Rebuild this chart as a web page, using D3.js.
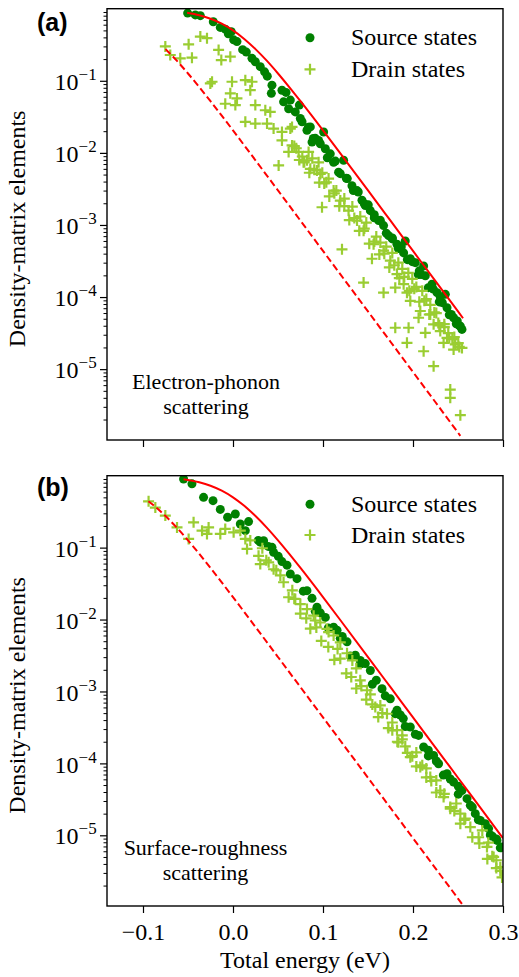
<!DOCTYPE html>
<html><head><meta charset="utf-8">
<script src="https://cdn.jsdelivr.net/npm/d3@7"></script>
<style>html,body{margin:0;padding:0;background:#fff;} svg{display:block;}</style>
</head><body><div id="chart"></div>
<script>
// ---------- data ----------
const xTicks = [-0.1, 0, 0.1, 0.2, 0.3];
const xTickLabels = ["\u22120.1", "0.0", "0.1", "0.2", "0.3"];
const yTicks = [1e-1, 1e-2, 1e-3, 1e-4, 1e-5];
const yTickExponents = ["\u22121", "\u22122", "\u22123", "\u22124", "\u22125"];
const xDomain = [-0.14, 0.3];
const yDomain = [1.04e-6, 1];
const seriesNames = ["Source states", "Drain states"];
const panelLabels = ["(a)", "(b)"];
const panelNotes = [["Electron-phonon", "scattering"], ["Surface-roughness", "scattering"]];
const xTitle = "Total energy (eV)";
const yTitle = "Density-matrix elements";

const sourceA = [[-0.0504,0.87],[-0.0419,0.82],[-0.0363,0.80],[-0.0219,0.66],[-0.0141,0.55],[-0.0086,0.52],[-0.0052,0.45],[-0.0019,0.48],[0.0007,0.37],[0.0044,0.35],[0.0107,0.27],[0.0148,0.25],[0.0211,0.205],[0.0248,0.184],[0.0303,0.157],[0.0351,0.133],[0.0381,0.116],[0.0433,0.087],[0.0426,0.067],[0.0544,0.074],[0.0589,0.069],[0.0562,0.051],[0.0637,0.054],[0.0618,0.041],[0.0692,0.037],[0.0737,0.046],[0.0748,0.030],[0.0767,0.027],[0.0822,0.0206],[0.0859,0.0229],[0.0878,0.0141],[0.0914,0.0159],[0.0951,0.0149],[0.1007,0.0195],[0.1026,0.0114],[0.1081,0.0097],[0.1118,0.0074],[0.1173,0.0054],[0.1229,0.0079],[0.1270,0.0044],[0.1322,0.0035],[0.1378,0.0030],[0.1433,0.0022],[0.1470,0.00186],[0.1526,0.00158],[0.1570,0.00139],[0.1618,0.00115],[0.1673,0.00098],[0.1729,0.00071],[0.1770,0.00064],[0.1822,0.00054],[0.1914,0.00060],[0.1896,0.00041],[0.1970,0.00034],[0.2026,0.00030],[0.2070,0.000231],[0.2118,0.00027],[0.2137,0.000197],[0.2211,0.000151],[0.2267,0.000115],[0.2303,0.000100],[0.2359,0.000109],[0.2378,0.000071],[0.2451,0.0000516],[0.2492,0.0000465],[0.2526,0.0000395],[0.2544,0.0000356],
[0.0837,0.0227],[0.0892,0.0158],[0.0970,0.0134],[0.1048,0.00855],[0.1137,0.00769],[0.1192,0.00515],[0.1259,0.00443],[0.1337,0.00301],[0.1392,0.00287],[0.1459,0.00197],[0.1503,0.00190],[0.1570,0.00126],[0.1637,0.00116],[0.1703,0.00077],[0.1770,0.00066],[0.1837,0.00047],[0.1870,0.00050],[0.1937,0.00033],[0.1992,0.00031],[0.2059,0.000205],[0.2092,0.000205],[0.2170,0.000135],[0.2226,0.000129],[0.2292,0.0000857],[0.2326,0.0000836],[0.2403,0.0000566],[0.2426,0.0000575],[0.2481,0.0000425],[0.2514,0.0000401]];

const drainA = [[-0.0752,0.30],[-0.0697,0.228],[-0.0586,0.205],[-0.0493,0.32],[-0.0456,0.209],[-0.0363,0.41],[-0.0289,0.39],[-0.0160,0.268],[-0.0130,0.194],[-0.0030,0.216],[-0.0233,0.097],[-0.0252,0.092],[-0.0011,0.097],[-0.0030,0.067],[0.0044,0.057],[-0.0086,0.048],[0.0026,0.046],[0.0137,0.102],[0.0211,0.097],[0.0192,0.074],[0.0248,0.046],[0.0359,0.039],[0.0414,0.037],[0.0137,0.027],[0.0248,0.0255],[0.0378,0.0255],[0.0451,0.0217],[0.0544,0.0195],[0.0637,0.0217],[0.0656,0.0229],[0.0544,0.0149],[0.0656,0.0127],[0.0618,0.0103],[0.0703,0.0116],[0.0729,0.0103],[0.0840,0.0103],[0.0507,0.0067],[0.0770,0.0089],[0.0784,0.0074],[0.0822,0.0079],[0.0881,0.0084],[0.0859,0.0060],[0.0933,0.0057],[0.0951,0.0074],[0.0970,0.0051],[0.0992,0.0053],[0.1037,0.0039],[0.1062,0.0044],[0.0989,0.00176],[0.1118,0.0030],[0.1148,0.0030],[0.1192,0.00218],[0.1237,0.00232],[0.1284,0.00158],[0.1326,0.00180],[0.1378,0.00115],[0.1414,0.00131],[0.1481,0.00108],[0.1211,0.00046],[0.1451,0.00083],[0.1562,0.00054],[0.1592,0.00069],[0.1544,0.00034],[0.1637,0.00057],[0.1673,0.00044],[0.1703,0.00050],[0.1748,0.00032],[0.1770,0.00041],[0.1837,0.00030],[0.1451,0.000159],[0.1673,0.000115],[0.1822,0.000208],[0.1803,0.000135],[0.1881,0.000246],[0.1896,0.000151],[0.1948,0.000216],[0.1933,0.000115],[0.1992,0.000179],[0.1970,0.0000883],[0.2037,0.000138],[0.2103,0.000122],[0.2148,0.000094],[0.2081,0.0000640],[0.2062,0.0000516],[0.2192,0.0000575],[0.2192,0.000078],[0.2259,0.000060],[0.2229,0.0000418],[0.2281,0.0000436],[0.2303,0.0000337],[0.2348,0.0000383],[0.2392,0.0000316],[0.2378,0.0000272],[0.2437,0.0000261],[0.2470,0.0000220],[0.2503,0.0000230],[0.2544,0.0000197],[0.2451,0.0000187],[0.1803,0.0000375],[0.1951,0.0000375],[0.1933,0.0000232],[0.2137,0.0000319],[0.2118,0.0000177],[0.2340,0.0000232],[0.2229,0.0000110],[0.2414,0.0000052],[0.2414,0.0000040],[0.2526,0.0000023],
[0.0681,0.01244],[0.0737,0.00796],[0.0792,0.00749],[0.0848,0.00530],[0.0903,0.00585],[0.0959,0.00387],[0.1014,0.00376],[0.1070,0.00249],[0.1126,0.00275],[0.1181,0.00182],[0.1237,0.00183],[0.1292,0.00117],[0.1348,0.00125],[0.1403,0.00083],[0.1459,0.00089],[0.1514,0.00055],[0.1570,0.00059],[0.1626,0.00039],[0.1681,0.00040],[0.1737,0.000258],[0.1792,0.000276],[0.1848,0.000183],[0.1903,0.000190],[0.1959,0.000122],[0.2014,0.000130],[0.2070,0.0000861],[0.2126,0.0000891],[0.2181,0.0000573],[0.2237,0.0000612],[0.2292,0.0000405],[0.2348,0.0000420],[0.2403,0.0000269],[0.2459,0.0000279],[0.2514,0.0000203]];

const sourceB = [[-0.0549,0.90],[-0.0456,0.77],[-0.0327,0.50],[-0.0222,0.45],[-0.0141,0.34],[-0.0060,0.264],[0.0026,0.293],[0.0081,0.213],[0.0173,0.230],[0.0137,0.172],[0.0303,0.119],[0.0340,0.125],[0.0433,0.101],[0.0451,0.086],[0.0544,0.064],[0.0600,0.057],[0.0637,0.043],[0.0711,0.037],[0.0822,0.0252],[0.0878,0.0197],[0.0933,0.0148],[0.1026,0.0107],[0.1118,0.0078],[0.1156,0.0071],[0.1214,0.0058],[0.1267,0.0049],[0.1359,0.0032],[0.1414,0.0027],[0.1470,0.00244],[0.1526,0.00196],[0.1592,0.00143],[0.1656,0.00109],[0.1748,0.00079],[0.1822,0.00055],[0.1892,0.00042],[0.1970,0.00032],[0.2062,0.000245],[0.2118,0.000169],[0.2170,0.000152],[0.2229,0.000129],[0.2284,0.000099],[0.2378,0.000072],[0.2451,0.000055],[0.2503,0.000048],[0.2544,0.000042],[0.2600,0.0000323],[0.2637,0.0000261],[0.2692,0.0000200],[0.2748,0.0000161],[0.2840,0.0000124],[0.2881,0.0000097],[0.2933,0.0000085],[0.2989,0.0000069],
[0.0281,0.126],[0.0392,0.104],[0.0503,0.0757],[0.0781,0.0248],[0.0914,0.0130],[0.0970,0.0124],[0.1059,0.00762],[0.1192,0.00548],[0.1303,0.00310],[0.1414,0.00241],[0.1548,0.00126],[0.1692,0.00087],[0.1803,0.00049],[0.1859,0.00047],[0.1914,0.000326],[0.2026,0.000254],[0.2170,0.000127],[0.2259,0.000108],[0.2337,0.0000687],[0.2414,0.0000607],[0.2503,0.0000373],[0.2659,0.0000247],[0.2726,0.0000164],[0.2803,0.0000145],[0.2859,0.0000101],[0.2926,0.0000089],[0.2970,0.0000067]];

const drainB = [[-0.0938,0.44],[-0.0863,0.36],[-0.0752,0.279],[-0.0622,0.191],[-0.0493,0.132],[-0.0438,0.225],[-0.0344,0.172],[-0.0271,0.191],[-0.0289,0.155],[-0.0141,0.155],[-0.0086,0.182],[0.0007,0.163],[0.0081,0.172],[0.0137,0.132],[0.0156,0.096],[0.0284,0.077],[0.0303,0.059],[0.0396,0.0625],[0.0451,0.050],[0.0526,0.041],[0.0562,0.033],[0.0618,0.0204],[0.0692,0.0193],[0.0748,0.0164],[0.0822,0.0140],[0.0896,0.0113],[0.0914,0.0097],[0.0970,0.0091],[0.1044,0.0074],[0.1062,0.0067],[0.1118,0.0060],[0.1162,0.0039],[0.1192,0.0048],[0.1267,0.0034],[0.1326,0.0027],[0.1370,0.0021],[0.1414,0.00143],[0.1489,0.00104],[0.1526,0.00091],[0.1581,0.00061],[0.1637,0.00064],[0.1711,0.00049],[0.1770,0.00037],[0.1822,0.00029],[0.1837,0.000196],[0.1881,0.000245],[0.1914,0.000172],[0.1970,0.000122],[0.2037,0.000142],[0.2081,0.0000889],[0.2148,0.000085],[0.2192,0.0000645],[0.2259,0.000058],[0.2303,0.000042],[0.2340,0.000034],[0.2414,0.0000247],[0.2481,0.0000277],[0.2526,0.0000200],[0.2581,0.0000171],[0.2637,0.0000130],[0.2729,0.0000094],[0.2770,0.0000117],[0.2822,0.0000069],[0.2837,0.0000079],[0.2896,0.0000050],[0.2926,0.0000045],[0.2970,0.0000036],[0.2989,0.0000026],
[0.0192,0.126],[0.0326,0.098],[0.0370,0.0665],[0.0481,0.0483],[0.0659,0.0255],[0.0681,0.0194],[0.0748,0.0121],[0.0814,0.0104],[0.0859,0.00747],[0.0926,0.00777],[0.0981,0.00504],[0.1059,0.00416],[0.1126,0.00275],[0.1192,0.00286],[0.1259,0.00178],[0.1314,0.00159],[0.1370,0.00110],[0.1426,0.00119],[0.1481,0.00077],[0.1548,0.00066],[0.1614,0.00044],[0.1659,0.00050],[0.1726,0.00031],[0.1770,0.000288],[0.1826,0.000200],[0.1881,0.000216],[0.1937,0.000140],[0.1992,0.000126],[0.2037,0.0000906],[0.2103,0.0000942],[0.2148,0.0000637],[0.2203,0.0000569],[0.2259,0.0000394],[0.2348,0.0000377],[0.2414,0.0000234],[0.2459,0.0000218],[0.2526,0.0000145],[0.2570,0.0000164],[0.2659,0.0000094],[0.2737,0.0000077],[0.2826,0.0000047],[0.2881,0.0000051],[0.2926,0.0000035],[0.2970,0.0000032]];

const fermiSourceA = [[-0.051,0.878],[-0.0375,0.810],[-0.025,0.725],[-0.0125,0.619],[0,0.5],[0.0125,0.381],[0.025,0.275],[0.0375,0.190],[0.05,0.1263],[0.0625,0.0818],[0.075,0.0521],[0.1,0.0205],[0.125,0.00788],[0.15,0.00301],[0.175,0.001146],[0.2,0.000436],[0.225,0.000166],[0.25,0.0000631],[0.2556,0.0000508]];
const fermiSourceB = [[-0.055,0.894],[-0.05,0.874],[-0.0375,0.810],[-0.025,0.725],[-0.0125,0.619],[0,0.5],[0.0125,0.381],[0.025,0.275],[0.0375,0.190],[0.05,0.1263],[0.0625,0.0818],[0.075,0.0521],[0.1,0.0205],[0.125,0.00788],[0.15,0.00301],[0.175,0.001146],[0.2,0.000436],[0.225,0.000166],[0.25,0.0000631],[0.275,0.0000240],[0.3,0.00000912]];
const fermiDrainA = [[-0.075,0.275],[-0.0625,0.190],[-0.05,0.1263],[-0.0375,0.0818],[-0.025,0.0521],[-0.0125,0.0328],[0,0.0205],[0.025,0.00788],[0.05,0.00301],[0.075,0.001146],[0.1,0.000436],[0.125,0.000166],[0.15,0.0000631],[0.175,0.0000240],[0.2,0.00000912],[0.225,0.00000347],[0.2526,0.00000119]];
const fermiDrainB = [[-0.094,0.442],[-0.0875,0.381],[-0.075,0.275],[-0.0625,0.190],[-0.05,0.1263],[-0.0375,0.0818],[-0.025,0.0521],[-0.0125,0.0328],[0,0.0205],[0.025,0.00788],[0.05,0.00301],[0.075,0.001146],[0.1,0.000436],[0.125,0.000166],[0.15,0.0000631],[0.175,0.0000240],[0.2,0.00000912],[0.225,0.00000347],[0.25,0.00000132],[0.2556,0.00000106]];

// ---------- drawing ----------
const W = 519, H = 977;
const SERIF = "'Liberation Serif','Times New Roman',serif";
const FS = 24;
const C_SRC = "#008000", C_DRN = "#9acd32", C_RED = "#ff0000";
const left = 107, right = 503;
const layouts = [
  {top: 8.7, bottom: 440, showX: false, legY: [37.7, 69.3], noteX: 206, noteY: [389, 414], labY: 30.5},
  {top: 475.7, bottom: 906, showX: true, legY: [504.3, 535], noteX: 205.5, noteY: [855, 880], labY: 495.5}
];
const panels = [
  {src: sourceA, drn: drainA, solid: fermiSourceA, dashed: fermiDrainA},
  {src: sourceB, drn: drainB, solid: fermiSourceB, dashed: fermiDrainB}
];
const minorTicks = [];
for (let k = -6; k <= -1; k++) for (let m = 2; m <= 9; m++) {
  const v = m * Math.pow(10, k);
  if (v >= yDomain[0] && v <= yDomain[1]) minorTicks.push(v);
}

const svg = d3.select("#chart").append("svg").attr("width", W).attr("height", H)
  .style("font-family", SERIF);
const x = d3.scaleLinear().domain(xDomain).range([left, right]);
const plusPath = "M-5.5,0H5.5M0,-5.5V5.5";

panels.forEach((p, i) => {
  const L = layouts[i];
  const y = d3.scaleLog().domain(yDomain).range([L.bottom, L.top]);
  const clipId = "clip" + i;
  svg.append("clipPath").attr("id", clipId).append("rect")
    .attr("x", left).attr("y", L.top).attr("width", right - left).attr("height", L.bottom - L.top);
  const plot = svg.append("g").attr("clip-path", `url(#${clipId})`);

  plot.append("g").selectAll("circle").data(p.src).join("circle")
    .attr("cx", d => x(d[0])).attr("cy", d => y(d[1])).attr("r", 4.5).attr("fill", C_SRC);
  plot.append("g").selectAll("path").data(p.drn).join("path")
    .attr("d", plusPath).attr("transform", d => `translate(${x(d[0])},${y(d[1])})`)
    .attr("stroke", C_DRN).attr("stroke-width", 2.2).attr("fill", "none");

  const line = d3.line().x(d => x(d[0])).y(d => y(d[1])).curve(d3.curveMonotoneX);
  plot.append("path").datum(p.dashed).attr("d", line).attr("fill", "none")
    .attr("stroke", C_RED).attr("stroke-width", 2).attr("stroke-dasharray", "7,3.5");
  plot.append("path").datum(p.solid).attr("d", line).attr("fill", "none")
    .attr("stroke", C_RED).attr("stroke-width", 2);

  // y axis
  const ya = svg.append("g").attr("transform", `translate(${left},0)`)
    .call(d3.axisLeft(y).tickValues(yTicks).tickSize(7).tickPadding(3.3).tickSizeOuter(0));
  ya.select(".domain").remove();
  ya.selectAll(".tick line").attr("stroke-width", 1.2);
  ya.selectAll(".tick text").each(function(d) {
    const t = d3.select(this);
    t.text(null).attr("font-family", SERIF).attr("font-size", FS).attr("fill", "#000").attr("dy", "0.36em");
    t.append("tspan").text("10");
    t.append("tspan").attr("dy", -10).attr("font-size", 17).text(yTickExponents[yTicks.indexOf(d)]);
  });
  const ym = svg.append("g").attr("transform", `translate(${left},0)`)
    .call(d3.axisLeft(y).tickValues(minorTicks).tickSize(3.5).tickFormat(() => "").tickSizeOuter(0));
  ym.select(".domain").remove();
  ym.selectAll(".tick line").attr("stroke-width", 1);

  // x axis
  const xa = svg.append("g").attr("transform", `translate(0,${L.bottom})`)
    .call(d3.axisBottom(x).tickValues(xTicks).tickSize(7).tickPadding(9.5).tickSizeOuter(0)
      .tickFormat((d, j) => L.showX ? xTickLabels[j] : ""));
  xa.select(".domain").remove();
  xa.selectAll(".tick line").attr("stroke-width", 1.2);
  xa.selectAll(".tick text").attr("font-family", SERIF).attr("font-size", FS).attr("fill", "#000");

  // frame
  svg.append("rect").attr("x", left).attr("y", L.top).attr("width", right - left).attr("height", L.bottom - L.top)
    .attr("fill", "none").attr("stroke", "#000").attr("stroke-width", 1.4);

  // legend
  svg.append("circle").attr("cx", 310).attr("cy", L.legY[0]).attr("r", 4.5).attr("fill", C_SRC);
  svg.append("path").attr("d", plusPath).attr("transform", `translate(310,${L.legY[1]})`)
    .attr("stroke", C_DRN).attr("stroke-width", 2.2).attr("fill", "none");
  svg.append("text").attr("x", 351).attr("y", L.legY[0] + 7.5).attr("font-size", FS).text(seriesNames[0]);
  svg.append("text").attr("x", 351).attr("y", L.legY[1] + 8).attr("font-size", FS).text(seriesNames[1]);

  // annotation
  panelNotes[i].forEach((s, j) => {
    svg.append("text").attr("x", L.noteX).attr("y", L.noteY[j]).attr("text-anchor", "middle")
      .attr("font-size", 22).text(s);
  });

  // panel label
  svg.append("text").attr("x", 37).attr("y", L.labY).attr("font-family", "'Liberation Sans',Arial,sans-serif")
    .attr("font-weight", "bold").attr("font-size", 25).text(panelLabels[i]);

  // y title
  svg.append("text").attr("transform", `translate(25,${(L.top + L.bottom) / 2 + 4.5}) rotate(-90)`)
    .attr("text-anchor", "middle").attr("font-size", FS).text(yTitle);
});

svg.append("text").attr("x", (left + right) / 2).attr("y", 968).attr("text-anchor", "middle")
  .attr("font-size", FS).text(xTitle);
</script>
</body></html>
